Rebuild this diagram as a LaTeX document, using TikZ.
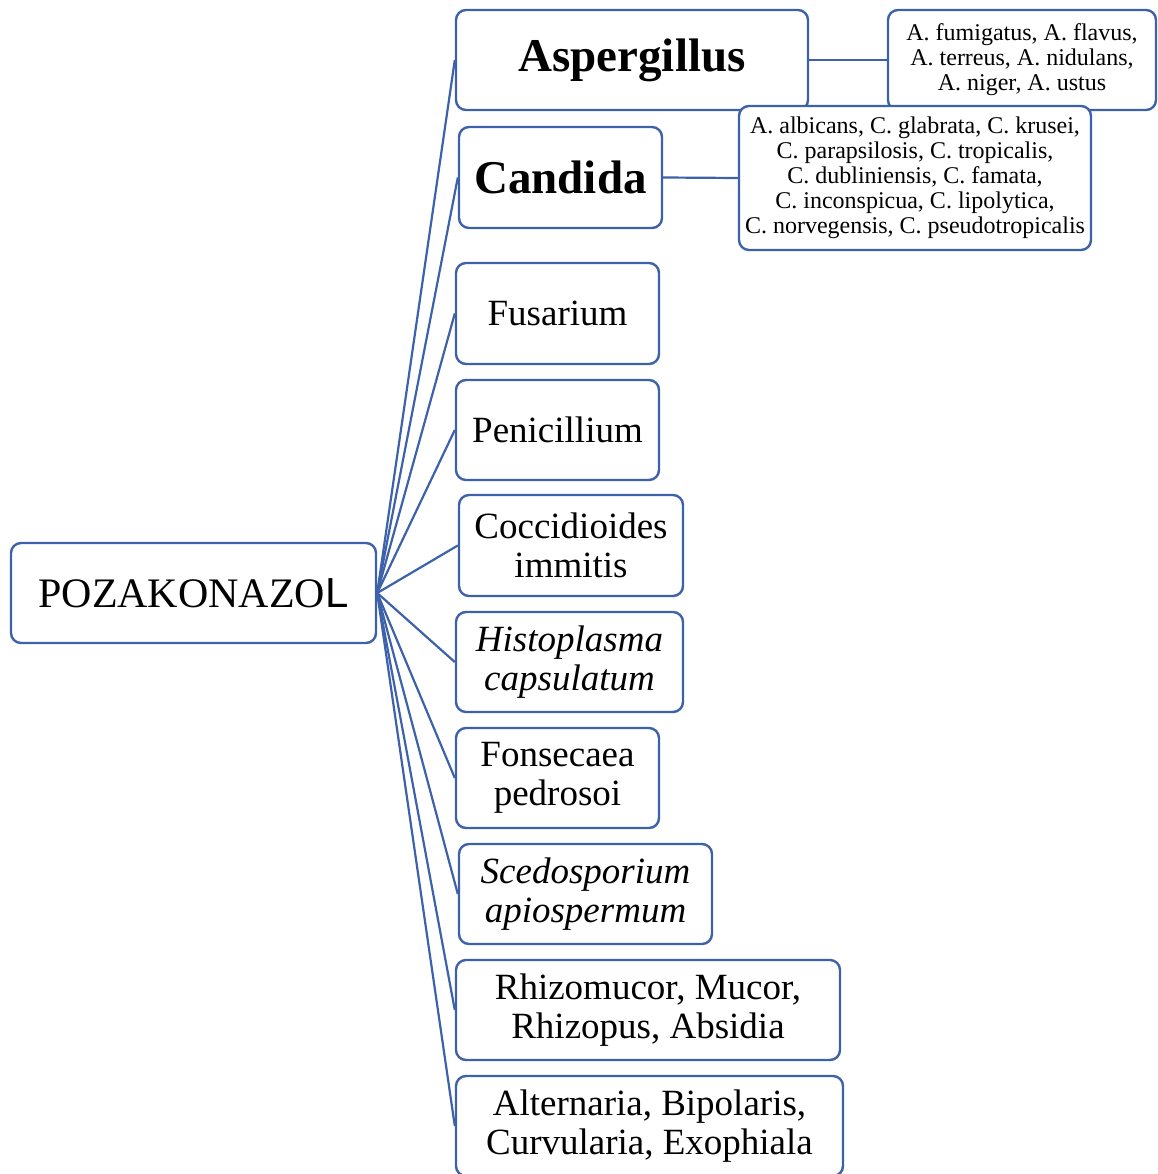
\documentclass[tikz,border=0pt]{standalone}
\usepackage{fontspec}
\setmainfont{Liberation Serif}
\newfontfamily\sansL{Liberation Sans}
\definecolor{lineblue}{RGB}{62,98,170}
\begin{document}
\begin{tikzpicture}[x=1pt,y=1pt,
  box/.style={draw=lineblue, line width=2.4pt, rounded corners=10pt, fill=white,
    align=center, inner sep=0pt, anchor=center},
  big/.style={font=\fontsize{37}{38.5}\selectfont},
  bigb/.style={font=\fontsize{47}{48}\selectfont\bfseries},
  small/.style={font=\fontsize{24}{25}\selectfont},
  link/.style={draw=lineblue, line width=2.2pt}]
\useasboundingbox (0,0) rectangle (1157,-1174);
\node[box, minimum width=365, minimum height=100, font=\fontsize{42}{44}\selectfont] (poz) at (193.5,-593) {POZAKONAZO{\sansL L}};
\node[box, bigb, minimum width=352, minimum height=100] (asp) at (632,-60) {\raisebox{-3pt}{Aspergillus}};
\node[box, small, minimum width=268, minimum height=100] (aspsp) at (1022,-60) {A. fumigatus, A. flavus,\\A. terreus, A. nidulans,\\A. niger, A. ustus};
\node[box, bigb, minimum width=203, minimum height=101] (cand) at (560.5,-177.5) {Candida};
\node[box, small, minimum width=352, minimum height=144] (candsp) at (915,-178) {A. albicans, C. glabrata, C. krusei,\\C. parapsilosis, C. tropicalis,\\C. dubliniensis, C. famata,\\C. inconspicua, C. lipolytica,\\C. norvegensis, C. pseudotropicalis};
\node[box, big, minimum width=203, minimum height=101] (fus) at (557.5,-313.5) {Fusarium};
\node[box, big, minimum width=203, minimum height=100] (pen) at (557.5,-430) {Penicillium};
\node[box, big, minimum width=224, minimum height=101] (coc) at (571,-545.5) {Coccidioides\\immitis};
\node[box, big, minimum width=227, minimum height=100] (his) at (569.5,-662) {\itshape Histoplasma\\\itshape capsulatum};
\node[box, big, minimum width=203, minimum height=100] (fon) at (557.5,-778) {Fonsecaea\\pedrosoi};
\node[box, big, minimum width=253, minimum height=100] (sce) at (585.5,-894) {\itshape Scedosporium\\\itshape apiospermum};
\node[box, big, minimum width=384, minimum height=100] (rhi) at (648,-1010) {Rhizomucor, Mucor,\\Rhizopus, Absidia};
\node[box, big, minimum width=387, minimum height=100] (alt) at (649.5,-1126) {Alternaria, Bipolaris,\\Curvularia, Exophiala};
\foreach \t in {asp,cand,fus,pen,coc,his,fon,sce,rhi,alt}
  \draw[link] (poz.east) -- (\t.west);
\draw[link] (asp.east) -- (aspsp.west);
\draw[link] (cand.east) -- (candsp.west);
\end{tikzpicture}
\end{document}
